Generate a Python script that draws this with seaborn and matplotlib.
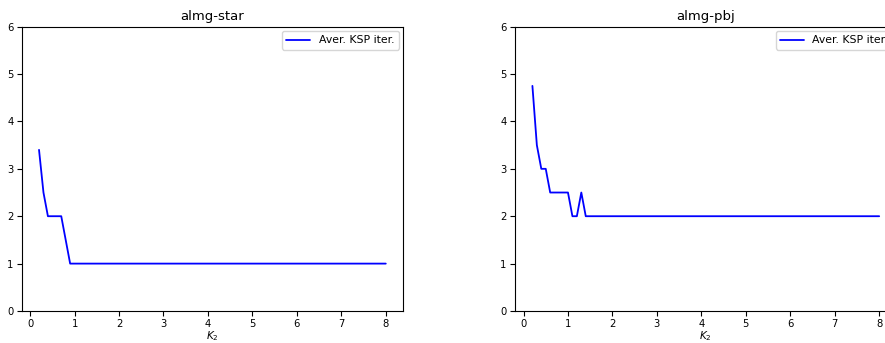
import pandas as pd
import matplotlib.pyplot as plt
import seaborn as sns

# K2 grid and average KSP iterations
k2_star = [0.2, 0.3, 0.4, 0.5, 0.6, 0.7, 0.8, 0.9, 1.0, 1.5, 2.0, 3.0, 4.0, 5.0, 6.0, 7.0, 8.0]
ksp_star = [3.4, 2.5, 2.0, 2.0, 2.0, 2.0, 1.5, 1.0, 1.0, 1.0, 1.0, 1.0, 1.0, 1.0, 1.0, 1.0, 1.0]

k2_pbj = [0.2, 0.3, 0.4, 0.5, 0.6, 0.7, 0.8, 0.9, 1.0, 1.1, 1.2, 1.3, 1.4, 1.5, 2.0, 3.0, 4.0, 5.0, 6.0, 7.0, 8.0]
ksp_pbj = [4.75, 3.5, 3.0, 3.0, 2.5, 2.5, 2.5, 2.5, 2.5, 2.0, 2.0, 2.5, 2.0, 2.0, 2.0, 2.0, 2.0, 2.0, 2.0, 2.0, 2.0]

TITLES = ['almg-star', 'almg-pbj']
YTICKS = [0, 1, 2, 3, 4, 5, 6]
XTICKS = [0, 1, 2, 3, 4, 5, 6, 7, 8]

sns.set_style('ticks')
plt.rcParams['font.family'] = ['DejaVu Sans']
plt.rcParams['text.color'] = 'black'
plt.rcParams['axes.labelcolor'] = 'black'
plt.rcParams['xtick.color'] = 'black'
plt.rcParams['ytick.color'] = 'black'

fig = plt.figure(figsize=(8.85, 3.43), dpi=100)
ax_left = fig.add_axes([0.0245, 0.0933, 0.431, 0.829])
# the right panel runs past the figure edge, as in the original crop
ax_right = fig.add_axes([0.582, 0.0933, 0.431, 0.829])

for ax, k2, ksp, title in zip([ax_left, ax_right], [k2_star, k2_pbj],
                              [ksp_star, ksp_pbj], TITLES):
    df = pd.DataFrame({'K2': k2, 'ksp': ksp})
    sns.lineplot(data=df, x='K2', y='ksp', ax=ax, color='blue',
                 linewidth=1.3, label='Aver. KSP iter.')
    ax.set_ylim(0, 6)
    ax.set_yticks(YTICKS)
    ax.set_xticks(XTICKS)
    ax.tick_params(labelsize=7.2, length=3.5, width=0.8, pad=2.5)
    ax.set_xlabel('$K_2$', fontsize=7.5, labelpad=0)
    ax.set_ylabel('')
    ax.set_title(title, fontsize=9.5, pad=5)
    for sp in ax.spines.values():
        sp.set_linewidth(0.8)
        sp.set_color('black')
    ax.legend(loc='upper right', fontsize=7.8, frameon=True,
              borderaxespad=0.4, handlelength=2.2)

ax_right.spines['right'].set_visible(False)

fig.savefig('out.png', dpi=100)
